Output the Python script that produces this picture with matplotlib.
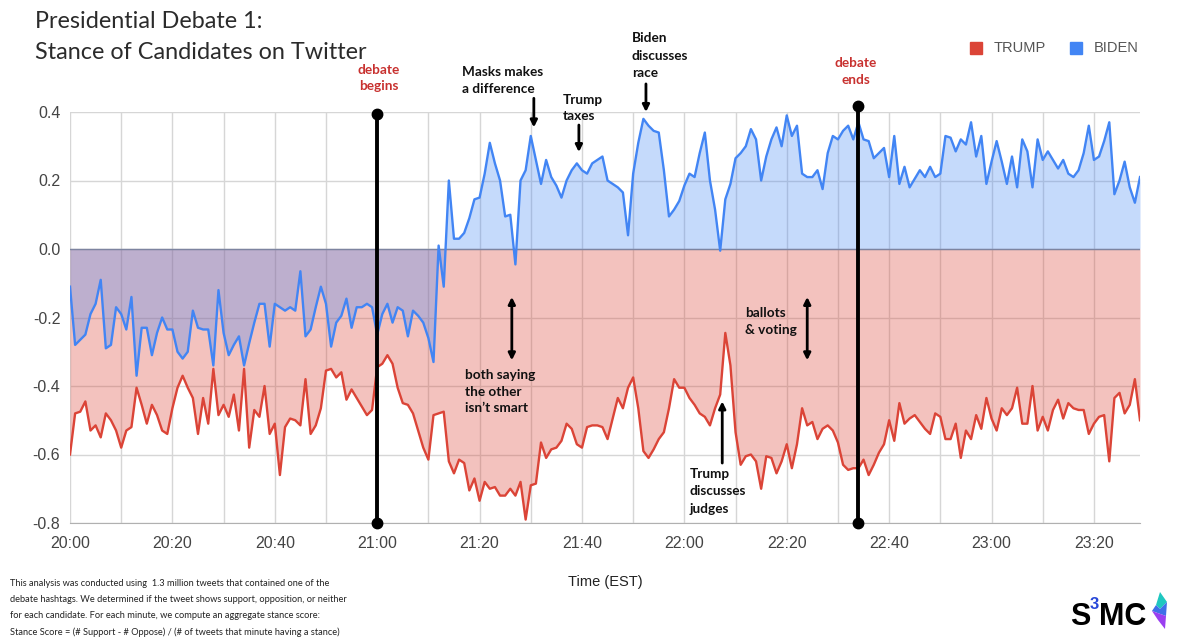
import matplotlib
matplotlib.use('Agg')
import matplotlib.pyplot as plt
import numpy as np
from matplotlib.patches import Polygon, Rectangle

# ---------------- data (minute-level stance score, 20:00 .. 23:29 EST) -------------
biden = [
    -0.11, -0.28, -0.265, -0.25, -0.19, -0.16, -0.09, -0.29, -0.28, -0.17,
    -0.19, -0.235, -0.14, -0.37, -0.23, -0.23, -0.31, -0.245, -0.20, -0.235,
    -0.235, -0.30, -0.32, -0.30, -0.18, -0.23, -0.235, -0.235, -0.34, -0.12,
    -0.245, -0.31, -0.28, -0.255, -0.34, -0.275, -0.215, -0.16, -0.16, -0.285,
    -0.16, -0.17, -0.18, -0.17, -0.18, -0.065, -0.255, -0.235, -0.17, -0.11,
    -0.16, -0.285, -0.215, -0.195, -0.145, -0.23, -0.17, -0.17, -0.16, -0.17,
    -0.25, -0.19, -0.16, -0.215, -0.17, -0.18, -0.255, -0.18, -0.195, -0.215,
    -0.26, -0.33, 0.01, -0.11, 0.20, 0.03, 0.03, 0.047, 0.09, 0.145,
    0.15, 0.22, 0.31, 0.25, 0.20, 0.095, 0.10, -0.045, 0.20, 0.23,
    0.33, 0.26, 0.19, 0.26, 0.21, 0.185, 0.15, 0.20, 0.23, 0.25,
    0.23, 0.22, 0.25, 0.26, 0.27, 0.20, 0.19, 0.18, 0.165, 0.04,
    0.22, 0.31, 0.38, 0.36, 0.345, 0.34, 0.23, 0.095, 0.115, 0.14,
    0.185, 0.22, 0.21, 0.28, 0.34, 0.20, 0.115, -0.005, 0.145, 0.19,
    0.265, 0.28, 0.30, 0.35, 0.32, 0.20, 0.27, 0.32, 0.355, 0.30,
    0.39, 0.33, 0.36, 0.22, 0.21, 0.21, 0.23, 0.175, 0.28, 0.33,
    0.32, 0.345, 0.36, 0.32, 0.37, 0.32, 0.315, 0.265, 0.28, 0.295,
    0.21, 0.33, 0.19, 0.24, 0.18, 0.205, 0.23, 0.21, 0.24, 0.21,
    0.22, 0.33, 0.325, 0.285, 0.32, 0.305, 0.37, 0.27, 0.33, 0.19,
    0.255, 0.315, 0.255, 0.19, 0.27, 0.18, 0.32, 0.285, 0.18, 0.32,
    0.26, 0.285, 0.26, 0.235, 0.26, 0.22, 0.21, 0.23, 0.28, 0.36,
    0.26, 0.27, 0.315, 0.37, 0.16, 0.20, 0.255, 0.18, 0.135, 0.21,
]
trump = [
    -0.60, -0.48, -0.475, -0.445, -0.53, -0.515, -0.55, -0.48, -0.50, -0.53,
    -0.58, -0.53, -0.52, -0.405, -0.455, -0.51, -0.455, -0.485, -0.53, -0.54,
    -0.465, -0.405, -0.37, -0.405, -0.435, -0.54, -0.435, -0.51, -0.35, -0.485,
    -0.455, -0.49, -0.425, -0.53, -0.35, -0.58, -0.47, -0.49, -0.40, -0.54,
    -0.51, -0.66, -0.52, -0.495, -0.50, -0.515, -0.38, -0.54, -0.515, -0.465,
    -0.355, -0.35, -0.375, -0.36, -0.44, -0.41, -0.435, -0.46, -0.485, -0.47,
    -0.345, -0.335, -0.31, -0.335, -0.405, -0.45, -0.455, -0.48, -0.53, -0.58,
    -0.615, -0.485, -0.48, -0.475, -0.62, -0.655, -0.615, -0.625, -0.705, -0.67,
    -0.735, -0.68, -0.70, -0.695, -0.72, -0.72, -0.70, -0.72, -0.68, -0.79,
    -0.69, -0.685, -0.565, -0.61, -0.585, -0.58, -0.56, -0.51, -0.525, -0.57,
    -0.58, -0.52, -0.515, -0.515, -0.52, -0.555, -0.495, -0.435, -0.465, -0.405,
    -0.375, -0.465, -0.59, -0.61, -0.585, -0.555, -0.535, -0.465, -0.38, -0.405,
    -0.405, -0.435, -0.455, -0.48, -0.49, -0.515, -0.465, -0.425, -0.245, -0.34,
    -0.535, -0.63, -0.605, -0.60, -0.62, -0.70, -0.605, -0.61, -0.655, -0.62,
    -0.57, -0.64, -0.57, -0.465, -0.515, -0.505, -0.555, -0.525, -0.515, -0.53,
    -0.565, -0.63, -0.645, -0.64, -0.64, -0.615, -0.66, -0.63, -0.595, -0.57,
    -0.50, -0.56, -0.45, -0.51, -0.495, -0.485, -0.505, -0.525, -0.54, -0.48,
    -0.49, -0.555, -0.555, -0.51, -0.61, -0.53, -0.555, -0.485, -0.525, -0.435,
    -0.495, -0.53, -0.465, -0.485, -0.465, -0.405, -0.51, -0.51, -0.40, -0.53,
    -0.49, -0.53, -0.47, -0.44, -0.495, -0.45, -0.465, -0.47, -0.47, -0.54,
    -0.51, -0.49, -0.485, -0.62, -0.435, -0.42, -0.48, -0.455, -0.38, -0.50,
]
start_time = "20:00"
x_tick_labels = ["20:00", "20:20", "20:40", "21:00", "21:20", "21:40",
                 "22:00", "22:20", "22:40", "23:00", "23:20"]
y_ticks = [-0.8, -0.6, -0.4, -0.2, 0.0, 0.2, 0.4]
series_names = ["TRUMP", "BIDEN"]
debate_begins = "21:00"
debate_ends = "22:34"

RED = '#DB4437'
BLUE = '#4285F4'
ANN_RED = '#C8312F'
W, H = 1182, 640


def to_min(s):
    h, m = s.split(':')
    sh, sm = start_time.split(':')
    return (int(h) * 60 + int(m)) - (int(sh) * 60 + int(sm))


fig = plt.figure(figsize=(W / 100, H / 100), dpi=100)
ax = fig.add_axes([70 / W, 1 - 523 / H, (1140 - 70) / W, (523 - 112) / H])

t = np.arange(len(trump))
ax.fill_between(t, 0, trump, color=RED, alpha=0.32, lw=0, zorder=2)
ax.fill_between(t, 0, biden, color=BLUE, alpha=0.30, lw=0, zorder=3)
ax.plot(t, trump, color=RED, lw=1.7, zorder=5, solid_joinstyle='round')
ax.plot(t, biden, color=BLUE, lw=1.7, zorder=5, solid_joinstyle='round')
ax.axhline(0, color='#7d84a0', lw=1.0, zorder=4)

ax.set_xlim(0, len(trump) - 1)
ax.set_ylim(-0.8, 0.4)
ax.set_xticks([to_min(s) for s in x_tick_labels])
ax.set_xticklabels(x_tick_labels)
ax.set_xticks(np.arange(0, len(trump), 10), minor=True)
ax.set_yticks(y_ticks)
ax.set_yticklabels([f"{v:.1f}" for v in y_ticks])
ax.grid(True, which='both', axis='x', color='#d6d6d6', lw=1.0, zorder=0)
ax.grid(True, which='major', axis='y', color='#d6d6d6', lw=1.0, zorder=0)
ax.set_axisbelow(True)
for s in ['top', 'right', 'left']:
    ax.spines[s].set_visible(False)
ax.spines['bottom'].set_color('#b0b0b0')
ax.tick_params(axis='both', which='both', length=0, labelsize=11.5,
               labelcolor='#444444')
ax.tick_params(axis='x', pad=9)
ax.tick_params(axis='y', pad=7)
for lab in ax.get_xticklabels() + ax.get_yticklabels():
    lab.set_fontfamily('Liberation Sans')

# event lines
for tm, top in [(debate_begins, 0.395), (debate_ends, 0.418)]:
    xm = to_min(tm)
    ax.plot([xm, xm], [-0.8, top], color='black', lw=2.8, zorder=7,
            clip_on=False, marker='o', markersize=7.5, solid_capstyle='butt')

# arrows
def arrow(x, y0, y1, both=False):
    style = '<|-|>' if both else '-|>'
    ax.annotate('', xy=(x, y1), xytext=(x, y0),
                arrowprops=dict(arrowstyle=style, color='black', lw=2.0,
                                mutation_scale=10, shrinkA=0, shrinkB=0),
                annotation_clip=False, zorder=8)

arrow(90.6, 0.44, 0.355)
arrow(99.4, 0.362, 0.283)
arrow(112.5, 0.482, 0.40)
arrow(86.3, -0.14, -0.325, both=True)
arrow(144.0, -0.14, -0.325, both=True)
arrow(127.4, -0.625, -0.445)


def ftxt(x, y, s, **kw):
    return fig.text(x / W, 1 - y / H, s, **kw)


def lines(x, y0, dy, items, **kw):
    for i, s in enumerate(items):
        ftxt(x, y0 + i * dy, s, va='center', **kw)

ann = dict(fontfamily='Lato', fontweight='bold', fontsize=9.8)
lines(379, 70, 16.5, ['debate', 'begins'], ha='center', color=ANN_RED, **ann)
lines(856, 63, 17, ['debate', 'ends'], ha='center', color=ANN_RED, **ann)
lines(462, 72, 17, ['Masks makes', 'a difference'], ha='left', color='#111111', **ann)
lines(563, 100, 16.5, ['Trump', 'taxes'], ha='left', color='#111111', **ann)
lines(632, 38, 17.5, ['Biden', 'discusses', 'race'], ha='left', color='#111111', **ann)
lines(465, 375, 16.7, ['both saying', 'the other', 'isn\u2019t smart'], ha='left',
      color='#111111', **ann)
lines(745, 313, 17, ['ballots', '& voting'], ha='left', color='#111111', **ann)
lines(690, 474, 17.3, ['Trump', 'discusses', 'judges'], ha='left', color='#111111', **ann)

# title
lines(35, 22, 30.5, ['Presidential Debate 1:', 'Stance of Candidates on Twitter'],
      ha='left', fontfamily='Lato', fontsize=16.8, color='#2b2b2b')

# legend
for (x0, name, col) in [(970, series_names[0], RED), (1070, series_names[1], BLUE)]:
    fig.patches.append(Rectangle((x0 / W, 1 - 54 / H), 12 / W, 12 / H,
                                 transform=fig.transFigure, color=col))
    ftxt(x0 + 24, 48, name, va='center', ha='left', fontfamily='Liberation Sans',
         fontsize=10.5, color='#555555')

# axis title
ftxt(605, 582, 'Time (EST)', ha='center', va='center',
     fontfamily='Liberation Sans', fontsize=10.5, color='#222222')

# footnote
foot = ['This analysis was conducted using  1.3 million tweets that contained one of the',
        'debate hashtags. We determined if the tweet shows support, opposition, or neither',
        'for each candidate. For each minute, we compute an aggregate stance score:',
        'Stance Score = (# Support - # Oppose) / (# of tweets that minute having a stance)']
lines(10, 584, 16, foot, ha='left', fontfamily='Lato', fontsize=6.7, color='#222222')

# logo
logo = dict(fontfamily='Liberation Sans', fontweight='bold', va='baseline')
ftxt(1070, 625, 'S', fontsize=22, color='black', **logo)
ftxt(1090, 609, '3', fontsize=12, color='#2747d8', **logo)
ftxt(1099, 625, 'MC', fontsize=22, color='black', **logo)


def poly(pts, col):
    fig.patches.append(Polygon([(px / W, 1 - py / H) for px, py in pts], closed=True,
                               transform=fig.transFigure, color=col, lw=0))

poly([(1160, 592), (1167, 602), (1160, 609), (1156, 605)], '#1fc7c0')
poly([(1156, 605), (1160, 609), (1167, 602), (1166, 616), (1152, 611)], '#3f6fe8')
poly([(1152, 611), (1166, 616), (1165, 629), (1158, 620)], '#9a3ff0')

fig.savefig('out.png', dpi=100, facecolor='white')
